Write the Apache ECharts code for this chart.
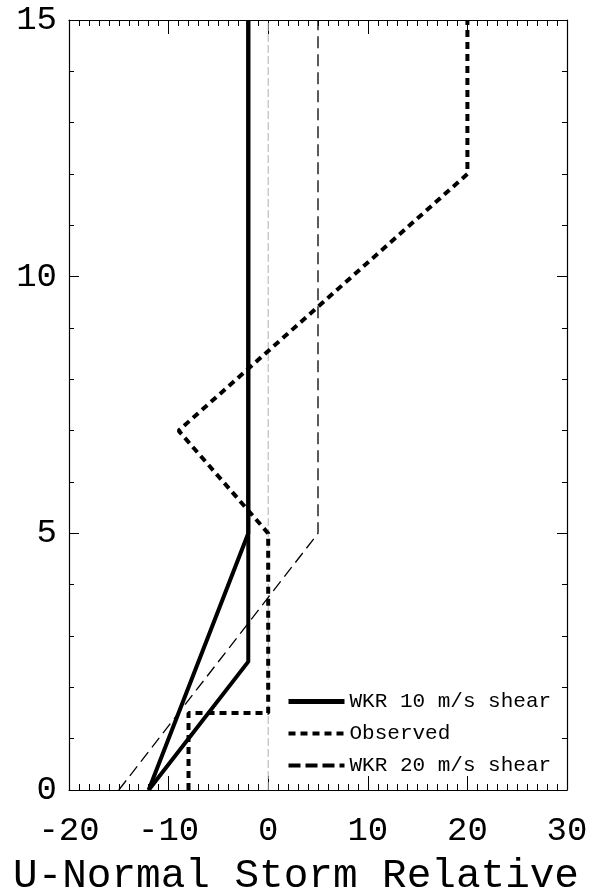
<!DOCTYPE html>
<html>
<head>
<meta charset="utf-8">
<script src="https://cdn.jsdelivr.net/npm/echarts@6/dist/echarts.min.js"></script>
<style>html,body{margin:0;padding:0;background:#fff}#c{width:593px;height:888px}</style>
</head>
<body>
<div id="c"></div>
<script>
// Data (x = U-Normal storm relative, y = height)
const wkr10a = [[-12, 0], [-2, 5], [-2, 15]];
const wkr10b = [[-12, 0], [-2, 2.5], [-2, 15]];
const observed = [[-8, 0], [-8, 1.5], [0, 1.5], [0, 5], [-9, 7], [20, 12], [20, 15]];
const wkr20 = [[-15, 0], [5, 5], [5, 15]];
const zeroLine = [[0, 0], [0, 15]];
const xTicks = [-20, -10, 0, 10, 20, 30];
const yTicks = [0, 5, 10, 15];

const FONT = '"Liberation Mono", "DejaVu Sans Mono", monospace';
const chart = echarts.init(document.getElementById('c'));

function axis(extra, majorLen, minorLen, split) {
  return Object.assign({
    type: 'value',
    axisLine: { show: true, onZero: false, lineStyle: { color: '#000', width: 1.2 } },
    axisTick: { show: true, inside: true, length: majorLen, lineStyle: { color: '#000', width: 1 } },
    minorTick: { show: true, splitNumber: split, length: minorLen, lineStyle: { color: '#000', width: 1 } },
    splitLine: { show: false },
    minorSplitLine: { show: false }
  }, extra);
}

chart.setOption({
  animation: false,
  backgroundColor: '#fff',
  grid: { left: 69, right: 26, top: 20, bottom: 98, containLabel: false, outerBoundsMode: 'none' },
  xAxis: [
    axis({
      min: xTicks[0], max: xTicks[xTicks.length - 1], interval: 10, position: 'bottom',
      axisLabel: { fontFamily: FONT, fontSize: 34, color: '#000', margin: 24, hideOverlap: false },
      name: 'U-Normal Storm Relative', nameLocation: 'middle', nameGap: 66,
      nameTextStyle: { fontFamily: FONT, fontSize: 41, color: '#000', padding: [0, 44, 0, 0] }
    }, 14, 6, 10),
    axis({
      min: xTicks[0], max: xTicks[xTicks.length - 1], interval: 10, position: 'top',
      axisLabel: { show: false }
    }, 14, 6, 10)
  ],
  yAxis: [
    axis({
      min: yTicks[0], max: yTicks[yTicks.length - 1], interval: 5, position: 'left',
      axisLabel: { fontFamily: FONT, fontSize: 34, color: '#000', margin: 12 }
    }, 10, 5, 5),
    axis({
      min: yTicks[0], max: yTicks[yTicks.length - 1], interval: 5, position: 'right',
      axisLabel: { show: false }
    }, 10, 5, 5)
  ],
  legend: {
    orient: 'vertical', left: 281, top: 686, itemGap: 11,
    itemWidth: 56, itemHeight: 16,
    itemStyle: { opacity: 0 },
    textStyle: { fontFamily: FONT, fontSize: 21, color: '#000' },
    data: [
      { name: 'WKR 10 m/s shear', itemStyle: { opacity: 0 }, lineStyle: { width: 5, type: 'solid', color: '#000' } },
      { name: 'Observed', itemStyle: { opacity: 0 }, lineStyle: { width: 4, type: [7, 5], color: '#000' } },
      { name: 'WKR 20 m/s shear', itemStyle: { opacity: 0 }, lineStyle: { width: 4, type: [12, 5], color: '#000' } }
    ]
  },
  series: [
    { type: 'line', name: 'zero', data: zeroLine, symbol: 'none', silent: true,
      lineStyle: { color: '#b0b0b0', width: 1, type: [8, 3] }, z: 1 },
    { type: 'line', name: 'WKR 20 m/s shear', data: wkr20, symbol: 'none', color: '#000',
      lineStyle: { color: '#000', width: 1.3, type: [12, 6] }, z: 2 },
    { type: 'line', name: 'WKR 10 m/s shear', data: wkr10a, symbol: 'none', color: '#000',
      lineStyle: { color: '#000', width: 4, type: 'solid', join: 'miter' }, z: 3 },
    { type: 'line', name: 'WKR 10 m/s shear', data: wkr10b, symbol: 'none', color: '#000',
      lineStyle: { color: '#000', width: 4, type: 'solid', join: 'miter' }, z: 3 },
    { type: 'line', name: 'Observed', data: observed, symbol: 'none', color: '#000',
      lineStyle: { color: '#000', width: 4, type: [7, 5] }, z: 4 }
  ]
});
</script>
</body>
</html>
